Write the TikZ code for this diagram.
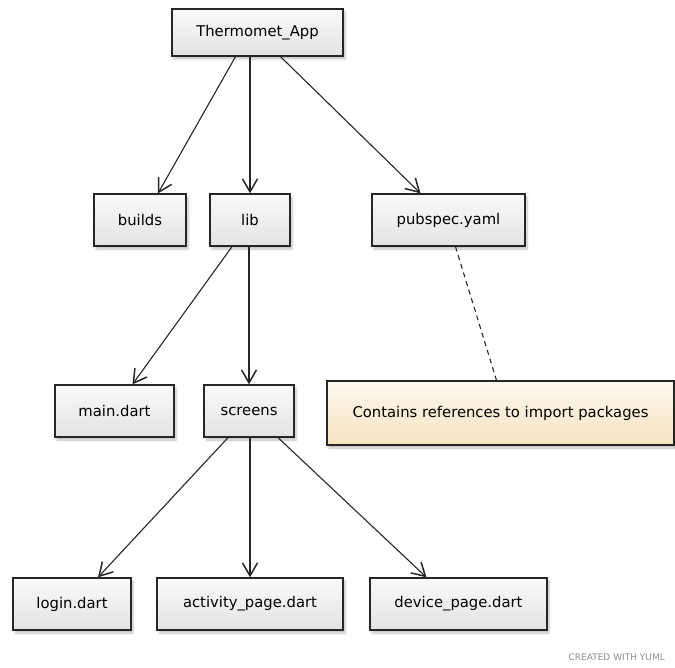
\documentclass[tikz,border=0pt]{standalone}
\usepackage{fontspec}
\setmainfont{DejaVu Sans}
\usetikzlibrary{arrows.meta,shadows.blur}
\definecolor{notetop}{HTML}{FDF8EE}
\definecolor{notebottom}{HTML}{F6E2BF}

\begin{document}
\begin{tikzpicture}[x=1pt,y=-1pt,
  box/.style={draw=black!85, line width=1.3pt, top color=black!2, bottom color=black!11,
    blur shadow={shadow xshift=2pt, shadow yshift=-3pt, shadow opacity=25, shadow blur steps=6},
    minimum height=52pt, inner sep=0pt, font=\fontsize{14.8}{17}\selectfont},
  notebox/.style={box, top color=notetop, bottom color=notebottom, minimum height=64pt},
  edge/.style={-{Straight Barb[length=13pt,width=15pt,line width=1.5pt]}, line width=1.1pt, draw=black!85},
  link/.style={dash pattern=on 5pt off 4pt, line width=1.1pt, draw=black!85}]
\useasboundingbox (0,0) rectangle (675,668);

%Boxes
\node[box, minimum width=171pt, minimum height=47pt] (app) at (257.5,32.5) {Thermomet\_App};
\node[box, minimum width=92pt] (builds) at (140,220) {builds};
\node[box, minimum width=80pt] (lib) at (250,220) {lib};
\node[box, minimum width=153pt] (pubspec) at (448.5,220) {pubspec.yaml};
\node[box, minimum width=119pt] (main) at (114.5,411) {main.dart};
\node[box, minimum width=90pt] (screens) at (249,411) {screens};
\node[notebox, minimum width=347pt] (note) at (500.5,413) {Contains references to import packages};
\node[box, minimum width=118pt] (login) at (72,604) {login.dart};
\node[box, minimum width=186pt] (activity) at (250,604) {activity\_page.dart};
\node[box, minimum width=177pt] (device) at (458.5,604) {device\_page.dart};

%Arrows
\draw[edge] ([xshift=-22pt]app.south) -- ([xshift=18pt]builds.north);
\draw[edge] (app.south -| lib.north) -- (lib.north);
\draw[edge] ([xshift=23pt]app.south) -- ([xshift=-28pt]pubspec.north);
\draw[edge] ([xshift=-18pt]lib.south) -- ([xshift=18pt]main.north);
\draw[edge] (lib.south -| screens.north) -- (screens.north);
\draw[edge] ([xshift=-21pt]screens.south) -- ([xshift=26pt]login.north);
\draw[edge] (screens.south -| activity.north) -- (activity.north);
\draw[edge] ([xshift=29pt]screens.south) -- ([xshift=-32pt]device.north);

%Note link
\draw[link] ([xshift=7pt]pubspec.south) -- ([xshift=-4pt]note.north);

%Footer
\node[anchor=east, text=black!45, font=\fontsize{9}{10}\selectfont, inner sep=0pt] (credit) at (665,657) {CREATED WITH YUML};
\end{tikzpicture}
\end{document}
